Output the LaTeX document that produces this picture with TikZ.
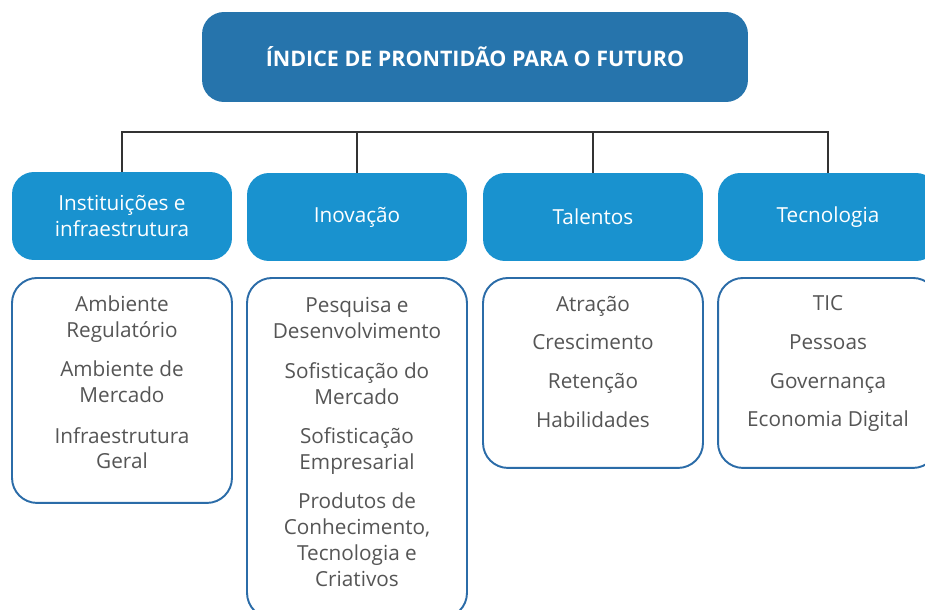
\documentclass[tikz,border=0pt]{standalone}
\usepackage{fontspec}
\setmainfont{Open Sans}
\newfontfamily\listfont{Open Sans}
\usepackage{xcolor}
\definecolor{TitleBlue}{HTML}{2674AC}
\definecolor{CatBlue}{HTML}{1992CF}
\definecolor{EdgeBlue}{HTML}{2B6CA8}
\definecolor{TextGray}{HTML}{555555}
\definecolor{LineGray}{HTML}{333333}

\begin{document}
\begin{tikzpicture}[x=0.02cm, y=-0.02cm,
    titlebox/.style={rectangle, rounded corners=0.44cm, minimum width=10.92cm, minimum height=1.8cm, fill=TitleBlue, text=white, font=\bfseries\fontsize{12.2}{14}\selectfont},
    catbox/.style={rectangle, rounded corners=0.44cm, minimum width=4.4cm, minimum height=1.76cm, fill=CatBlue, text=white, align=center, font=\listfont\fontsize{11.8}{14.5}\selectfont},
    listbox/.style={rectangle, rounded corners=0.5cm, minimum width=4.4cm, draw=EdgeBlue, line width=1.1pt, fill=white, anchor=north},
    listtext/.style={anchor=north, align=center, inner sep=0pt, text=TextGray, font=\listfont\fontsize{11.8}{14.7}\selectfont},
    bar/.style={draw=LineGray, line width=0.6pt}]
    \useasboundingbox (0,0) rectangle (925,609);
    \clip (0,0) rectangle (925,609);

    \node[titlebox] (indice) at (475,57) {ÍNDICE DE PRONTIDÃO PARA O FUTURO};

    \node[catbox] (inst) at (122,216) {Instituições e\\infraestrutura};
    \node[catbox] (inov) at (357,217) {Inovação};
    \node[catbox] (tal) at (593,217) {Talentos};
    \node[catbox] (tec) at (828,217) {Tecnologia};

    \coordinate (barmid) at (475,132); % the bar has no drop from the title
    \draw[bar] (inst.north) |- (barmid) -| (tec.north);
    \draw[bar] (inov.north) -- (inov.north |- barmid);
    \draw[bar] (tal.north) -- (tal.north |- barmid);

    \node[listbox, minimum height=4.5cm] (instbox) at (122,277) {};
    \node[listbox, minimum height=6.8cm] (inovbox) at (357,277) {};
    \node[listbox, minimum height=3.8cm] (talbox) at (593,277) {};
    \node[listbox, minimum height=3.8cm] (tecbox) at (828,277) {};

    \node[listtext] (instlist) at ([yshift=-0.37cm]instbox.north) {Ambiente\\Regulatório\\[7.5pt]Ambiente de\\Mercado\\[8.5pt]Infraestrutura\\Geral};
    \node[listtext] (inovlist) at ([yshift=-0.4cm]inovbox.north) {Pesquisa e\\Desenvolvimento\\[8pt]Sofisticação do\\Mercado\\[8pt]Sofisticação\\Empresarial\\[7.5pt]Produtos de\\Conhecimento,\\Tecnologia e\\Criativos};
    \node[listtext] (tallist) at ([yshift=-0.37cm]talbox.north) {Atração\\[7.3pt]Crescimento\\[7.3pt]Retenção\\[7.3pt]Habilidades};
    \node[listtext] (teclist) at ([yshift=-0.37cm]tecbox.north) {TIC\\[7.3pt]Pessoas\\[7.3pt]Governança\\[7.3pt]Economia Digital};
\end{tikzpicture}
\end{document}
